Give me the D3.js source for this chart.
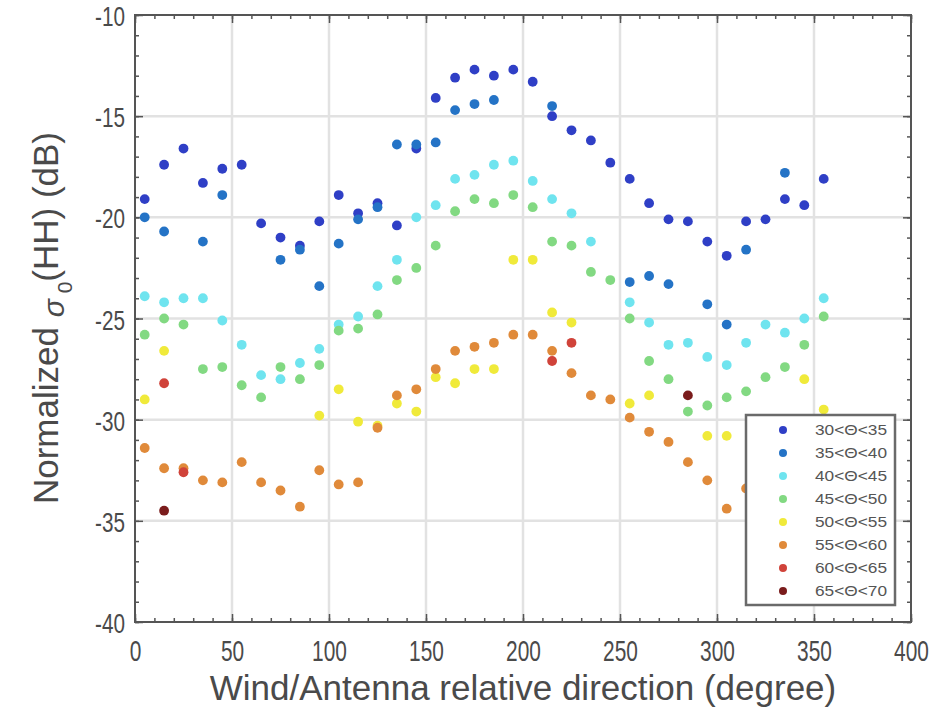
<!DOCTYPE html>
<html><head><meta charset="utf-8">
<script src="https://cdn.jsdelivr.net/npm/d3@7"></script>
<style>body{margin:0;background:#fff;} text{font-family:"Liberation Sans",Arial,sans-serif;}</style>
</head><body><svg id="c" width="943" height="711"></svg>
<script>
const seriesLabels = ["30<\u0398<35","35<\u0398<40","40<\u0398<45","45<\u0398<50","50<\u0398<55","55<\u0398<60","60<\u0398<65","65<\u0398<70"];
const seriesColors = ["#2f3fc6","#2473c6","#6fe4ef","#82d982","#f0ea3a","#e08a3a","#d0433a","#7a1c1c"];
const x1 = [5,15,25,35,45,55,65,75,85,95,105,115,125,135,145,155,165,175,185,195,205,215,225,235,245,255,265,275,285,295,305,315,325,335,345,355];
const y1 = [-19.1,-17.4,-16.6,-18.3,-17.6,-17.4,-20.3,-21.0,-21.4,-20.2,-18.9,-19.8,-19.3,-20.4,-16.6,-14.1,-13.1,-12.7,-13.0,-12.7,-13.3,-15.0,-15.7,-16.2,-17.3,-18.1,-19.3,-20.1,-20.2,-21.2,-21.9,-20.2,-20.1,-19.1,-19.4,-18.1];
const x2 = [5,15,35,45,75,85,95,105,115,125,135,145,155,165,175,185,215,255,265,275,295,305,315,335];
const y2 = [-20.0,-20.7,-21.2,-18.9,-22.1,-21.6,-23.4,-21.3,-20.1,-19.5,-16.4,-16.4,-16.3,-14.7,-14.4,-14.2,-14.5,-23.2,-22.9,-23.3,-24.3,-25.3,-21.6,-17.8];
const x3 = [5,15,25,35,45,55,65,75,85,95,105,115,125,135,145,155,165,175,185,195,205,215,225,235,255,265,275,285,295,305,315,325,335,345,355];
const y3 = [-23.9,-24.2,-24.0,-24.0,-25.1,-26.3,-27.8,-28.0,-27.2,-26.5,-25.3,-24.9,-23.4,-22.1,-20.0,-19.4,-18.1,-17.9,-17.4,-17.2,-18.2,-19.1,-19.8,-21.2,-24.2,-25.2,-26.3,-26.2,-26.9,-27.3,-26.2,-25.3,-25.7,-25.0,-24.0];
const x4 = [5,15,25,35,45,55,65,75,85,95,105,115,125,135,145,155,165,175,185,195,205,215,225,235,245,255,265,275,285,295,305,315,325,335,345,355];
const y4 = [-25.8,-25.0,-25.3,-27.5,-27.4,-28.3,-28.9,-27.4,-28.0,-27.3,-25.6,-25.5,-24.8,-23.1,-22.5,-21.4,-19.7,-19.1,-19.3,-18.9,-19.5,-21.2,-21.4,-22.7,-23.1,-25.0,-27.1,-28.0,-29.6,-29.3,-28.9,-28.6,-27.9,-27.4,-26.3,-24.9];
const x5 = [5,15,95,105,115,125,135,145,155,165,175,185,195,205,215,225,255,265,295,305,345,355];
const y5 = [-29.0,-26.6,-29.8,-28.5,-30.1,-30.3,-29.2,-29.6,-27.9,-28.2,-27.5,-27.5,-22.1,-22.1,-24.7,-25.2,-29.2,-28.8,-30.8,-30.8,-28.0,-29.5];
const x6 = [5,15,25,35,45,55,65,75,85,95,105,115,125,135,145,155,165,175,185,195,205,215,225,235,245,255,265,275,285,295,305,315];
const y6 = [-31.4,-32.4,-32.4,-33.0,-33.1,-32.1,-33.1,-33.5,-34.3,-32.5,-33.2,-33.1,-30.4,-28.8,-28.5,-27.5,-26.6,-26.4,-26.2,-25.8,-25.8,-26.6,-27.7,-28.8,-29.0,-29.9,-30.6,-31.1,-32.1,-33.0,-34.4,-33.4];
const x7 = [15,25,215,225];
const y7 = [-28.2,-32.6,-27.1,-26.2];
const x8 = [15,285];
const y8 = [-34.5,-28.8];
const xTicks = [0,50,100,150,200,250,300,350,400];
const yTicks = [-10,-15,-20,-25,-30,-35,-40];

const seriesX = [x1,x2,x3,x4,x5,x6,x7,x8];
const seriesY = [y1,y2,y3,y4,y5,y6,y7,y8];

const L=135,T=15,R=911,B=622;
const svg = d3.select("#c");
const x = d3.scaleLinear().domain([0,400]).range([L,R]);
const y = d3.scaleLinear().domain([-40,-10]).range([B,T]);
const axisCol = "#555";
const textCol = "#4a4a4a";

// grid
const g = svg.append("g");
g.selectAll(".gx").data(xTicks.slice(1,-1)).join("line")
  .attr("x1",d=>x(d)).attr("x2",d=>x(d)).attr("y1",T).attr("y2",B)
  .attr("stroke","#e2e2e2").attr("stroke-width",2.5);
g.selectAll(".gy").data(yTicks.slice(1,-1)).join("line")
  .attr("y1",d=>y(d)).attr("y2",d=>y(d)).attr("x1",L).attr("x2",R)
  .attr("stroke","#e2e2e2").attr("stroke-width",2.5);

function addAxis(axisGen, tx, ty){
  const a = svg.append("g").attr("transform",`translate(${tx},${ty})`).call(axisGen);
  a.select(".domain").remove();
  a.selectAll("line").attr("stroke",axisCol).attr("stroke-width",1.5);
  a.selectAll("text").remove();
  return a;
}
const xMinor = d3.range(0,401,10), yMinor = d3.range(-40,-9,1);
addAxis(d3.axisBottom(x).tickValues(xMinor).tickSize(-4),0,B);
addAxis(d3.axisTop(x).tickValues(xMinor).tickSize(-4),0,T);
addAxis(d3.axisLeft(y).tickValues(yMinor).tickSize(-4),L,0);
addAxis(d3.axisRight(y).tickValues(yMinor).tickSize(-4),R,0);
addAxis(d3.axisBottom(x).tickValues(xTicks).tickSize(-8),0,B);
addAxis(d3.axisTop(x).tickValues(xTicks).tickSize(-8),0,T);
addAxis(d3.axisLeft(y).tickValues(yTicks).tickSize(-8),L,0);
addAxis(d3.axisRight(y).tickValues(yTicks).tickSize(-8),R,0);

// tick labels (narrow, tall glyphs as in the reference)
const xa = svg.append("g").attr("transform",`translate(0,${B})`)
  .call(d3.axisBottom(x).tickValues(xTicks).tickSize(0).tickFormat(d3.format("d")));
xa.select(".domain").remove();
xa.selectAll("text").attr("font-size",29).attr("fill",textCol)
  .attr("y",39).attr("dy",0).attr("transform","scale(0.72,1)");
const ya = svg.append("g").attr("transform",`translate(${L},0)`)
  .call(d3.axisLeft(y).tickValues(yTicks).tickSize(0).tickFormat(d=>String(d)));
ya.select(".domain").remove();
ya.selectAll("text").attr("font-size",28).attr("fill",textCol)
  .attr("x",-10/0.74).attr("dy","0.38em").attr("transform","scale(0.74,1)");

// points
seriesX.forEach((xs,i)=>{
  svg.append("g").selectAll("circle").data(xs.map((v,j)=>[v,seriesY[i][j]])).join("circle")
    .attr("cx",d=>x(d[0])).attr("cy",d=>y(d[1])).attr("r",4.9)
    .attr("fill",seriesColors[i]);
});

// frame
svg.append("rect").attr("x",L).attr("y",T).attr("width",R-L).attr("height",B-T)
  .attr("fill","none").attr("stroke",axisCol).attr("stroke-width",2);

// legend
const lg = svg.append("g");
lg.append("rect").attr("x",746).attr("y",415).attr("width",149).attr("height",190)
  .attr("fill","#fff").attr("stroke","#6a6a6a").attr("stroke-width",2.5);
seriesLabels.forEach((lab,i)=>{
  const yy = 430 + i*23;
  lg.append("circle").attr("cx",783).attr("cy",yy).attr("r",4).attr("fill",seriesColors[i]);
  lg.append("text").attr("x",815).attr("y",yy).attr("dy","0.36em")
    .attr("font-size",14).attr("fill","#555")
    .attr("textLength",72).attr("lengthAdjust","spacingAndGlyphs").text(lab);
});

// axis titles
svg.append("text").attr("x",523).attr("y",700).attr("text-anchor","middle")
  .attr("font-size",35).attr("fill",textCol).text("Wind/Antenna relative direction (degree)");
const yt = svg.append("text").attr("transform",`translate(58,318) rotate(-90)`).attr("text-anchor","middle")
  .attr("font-size",35).attr("fill",textCol);
yt.append("tspan").text("Normalized ");
yt.append("tspan").attr("font-style","italic").attr("font-size",30).attr("dy",6).text("\u03c3");
yt.append("tspan").attr("font-size",21).attr("dy",8).text(" 0");
yt.append("tspan").attr("dy",-14).text("(HH) (dB)");
</script></body></html>
